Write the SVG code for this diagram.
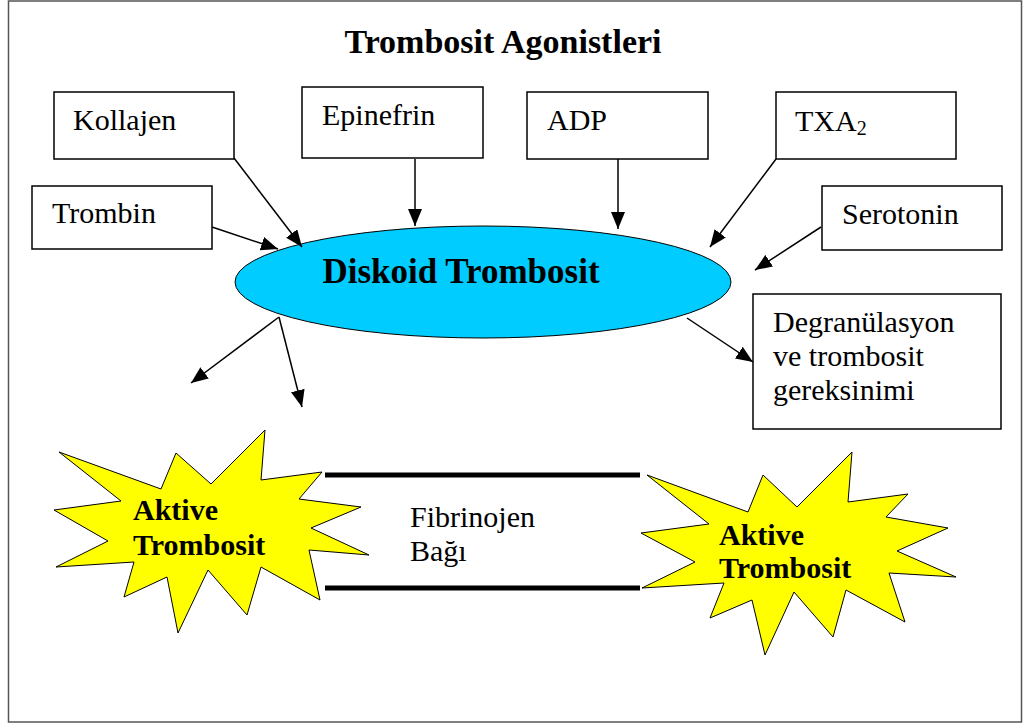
<svg xmlns="http://www.w3.org/2000/svg" width="1025" height="725" viewBox="0 0 1025 725">
<style>
.box{fill:#fff;stroke:#000;stroke-width:1.5}
text{font-family:'Liberation Serif','Times New Roman',Times,'DejaVu Serif',serif;font-size:30px;fill:#000}
.b{font-weight:bold}
.c line{stroke:#000;stroke-width:1.5;marker-end:url(#ah)}
.star{fill:#ffff00;stroke:#000;stroke-width:1}
</style>
<defs>
<marker id="ah" markerUnits="userSpaceOnUse" markerWidth="18" markerHeight="14" refX="17" refY="7" orient="auto">
<path d="M0,0 L17,7 L0,14 z" fill="#000"/>
</marker>
</defs>
<rect x="0" y="0" width="1025" height="725" fill="#fff"/>
<rect x="8.5" y="1" width="1013" height="721" fill="none" stroke="#555" stroke-width="1.5"/>
<text class="b" x="503" y="53" text-anchor="middle" style="font-size:34px">Trombosit Agonistleri</text>

<g id="kollajen"><rect class="box" x="54" y="92" width="180" height="67"/><text x="73" y="130">Kollajen</text></g>
<g id="epinefrin"><rect class="box" x="302" y="87" width="181" height="71"/><text x="322" y="125">Epinefrin</text></g>
<g id="adp"><rect class="box" x="527" y="92" width="181" height="67"/><text x="547" y="130">ADP</text></g>
<g id="txa2"><rect class="box" x="776" y="92" width="180" height="67"/><text x="795" y="131">TXA<tspan style="font-size:20px" dy="4">2</tspan></text></g>
<g id="trombin"><rect class="box" x="32" y="186" width="180" height="63"/><text x="52" y="223">Trombin</text></g>
<g id="serotonin"><rect class="box" x="822" y="186" width="180" height="64"/><text x="842" y="224">Serotonin</text></g>
<g id="degranulasyon"><rect class="box" x="753" y="294" width="248" height="135"/>
<text x="773" y="332">Degranülasyon</text><text x="773" y="366">ve trombosit</text><text x="773" y="400">gereksinimi</text></g>

<g id="diskoid"><ellipse cx="483" cy="282" rx="248" ry="56" fill="#00ccff" stroke="#000" stroke-width="1"/>
<text class="b" x="461" y="283" text-anchor="middle" style="font-size:35px">Diskoid Trombosit</text></g>

<g class="c" id="connectors">
<line x1="234" y1="158" x2="302" y2="247"/>
<line x1="415" y1="159" x2="415" y2="226"/>
<line x1="618" y1="159" x2="618" y2="229"/>
<line x1="776" y1="159" x2="710" y2="247"/>
<line x1="212" y1="227" x2="278" y2="249"/>
<line x1="821" y1="227" x2="755" y2="270"/>
<line x1="687" y1="318" x2="753" y2="362"/>
<line x1="279" y1="317" x2="191" y2="383"/>
<line x1="279" y1="317" x2="302" y2="407"/>
<line x1="325" y1="475" x2="640" y2="475" style="marker-end:none;stroke-width:5"/>
<line x1="325" y1="588" x2="640" y2="588" style="marker-end:none;stroke-width:5"/>
</g>

<g id="aktive1">
<polygon class="star" points="265,430 261,480 322,472 299,499 361,507 311,528 369,555 309,550 320,600 261,567 247,615 208,570 178,633 167,577 124,597 134,562 56,567 108,541 54,510 121,501 59,452 161,489 176,453 211,484"/>
<text class="b" x="133" y="520">Aktive</text><text class="b" x="133" y="555">Trombosit</text></g>

<g id="fibrinojen"><text x="410" y="527">Fibrinojen</text><text x="410" y="561">Bağı</text></g>

<g id="aktive2">
<polygon class="star" points="852,452 848,502 908,494 886,517 948,528 897,551 956,577 889,573 905,622 846,590 833,637 794,592 765,655 752,600 710,618 724,583 642,588 695,562 641,533 709,524 647,475 748,512 763,475 797,507"/>
<text class="b" x="719" y="545">Aktive</text><text class="b" x="719" y="578">Trombosit</text></g>
</svg>
